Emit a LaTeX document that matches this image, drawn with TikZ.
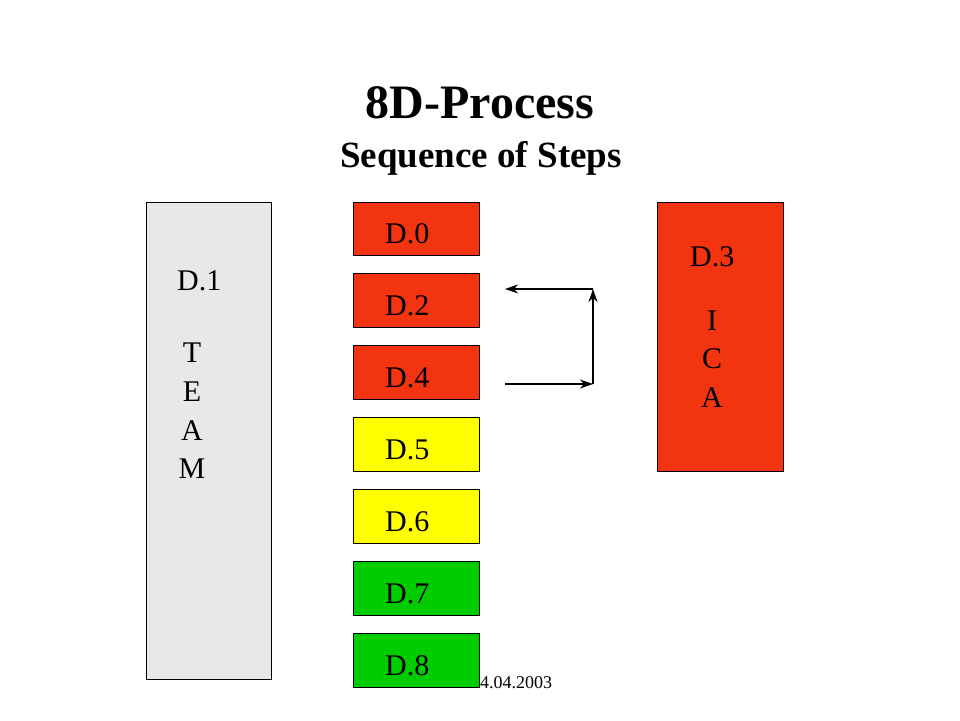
\documentclass[tikz,border=0pt]{standalone}
\usepackage{fontspec}
\setmainfont{Liberation Serif}
\usetikzlibrary{arrows.meta}
\definecolor{redbox}{HTML}{F23510}
\definecolor{yelbox}{HTML}{FFFF00}
\definecolor{grnbox}{HTML}{00CC00}
\definecolor{graybox}{HTML}{E8E8E8}
\tikzset{
  stepbox/.style={draw=black, line width=0.9pt},
  lbl/.style={anchor=base west, inner sep=0pt, font=\fontsize{30}{30}\selectfont},
  letter/.style={anchor=base, inner sep=0pt, font=\fontsize{30}{30}\selectfont},
  arr/.style={line width=1.3pt, -{Stealth[length=13pt,width=9pt,inset=4pt]}}
}
\begin{document}
\begin{tikzpicture}[x=1pt,y=-1pt]
\useasboundingbox (0,0) rectangle (960,720);
\fill[white] (0,0) rectangle (960,720);
% titles
\node[anchor=base, inner sep=0pt, font=\bfseries\fontsize{48}{48}\selectfont] (title) at (480,118) {8D-Process};
\node[anchor=base, inner sep=0pt, font=\bfseries\fontsize{37}{37}\selectfont] (subtitle) at (481,167) {Sequence of Steps};
% date
\node[anchor=base west, inner sep=0pt, font=\fontsize{18}{18}\selectfont] (date) at (480,688) {4.04.2003};
% team box
\draw[stepbox, fill=graybox] (146,202) rectangle (271,679);
\node[lbl] (d1) at (177,290) {D.1};
\node[letter] (t) at (192,362) {T};
\node[letter] (e) at (192,401) {E};
\node[letter] (a) at (192,440) {A};
\node[letter] (m) at (192,478) {M};
% ICA box
\draw[stepbox, fill=redbox] (657,202) rectangle (783,471);
\node[lbl] (d3) at (690,266) {D.3};
\node[letter] (i) at (712,330) {I};
\node[letter] (c) at (712,368) {C};
\node[letter] (a2) at (712,407) {A};
% step boxes
\draw[stepbox, fill=redbox] (353,202) rectangle (479,255);
\node[lbl] (d0) at (385,243) {D.0};
\draw[stepbox, fill=redbox] (353,273) rectangle (479,327);
\node[lbl] (d2) at (385,315) {D.2};
\draw[stepbox, fill=redbox] (353,345) rectangle (479,399);
\node[lbl] (d4) at (385,387) {D.4};
\draw[stepbox, fill=yelbox] (353,417) rectangle (479,471);
\node[lbl] (d5) at (385,459) {D.5};
\draw[stepbox, fill=yelbox] (353,489) rectangle (479,543);
\node[lbl] (d6) at (385,531) {D.6};
\draw[stepbox, fill=grnbox] (353,561) rectangle (479,615);
\node[lbl] (d7) at (385,603) {D.7};
\draw[stepbox, fill=grnbox] (353,633) rectangle (479,687);
\node[lbl] (d8) at (385,675) {D.8};
% arrows
\coordinate (bl) at (505,384);
\coordinate (br) at (593,384);
\coordinate (tr) at (593,289);
\coordinate (tl) at (505,289);
\draw[arr] (bl) -- (br);
\draw[arr] (br) -- (tr);
\draw[arr] (tr) -- (tl);
\end{tikzpicture}
\end{document}
